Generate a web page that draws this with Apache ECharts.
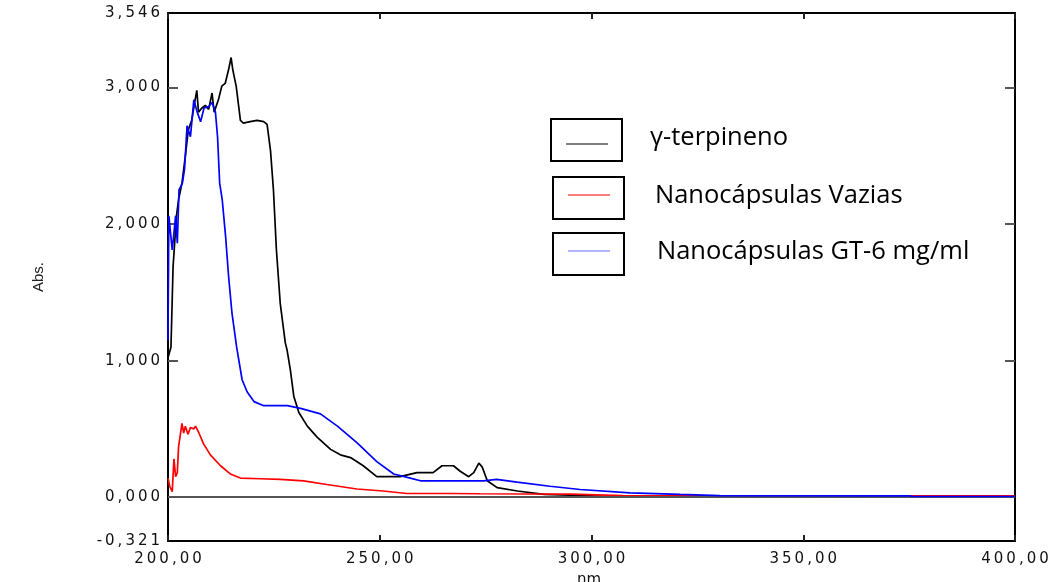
<!DOCTYPE html>
<html>
<head>
<meta charset="utf-8">
<script src="https://cdn.jsdelivr.net/npm/echarts@6/dist/echarts.min.js"></script>
<style>html,body{margin:0;padding:0;background:#fff;}#c{width:1051px;height:582px;}</style>
</head>
<body>
<div id="c"></div>
<script>
// Data (nm, Abs.)
var gammaTerpineno = [
[200.0,1.02],[200.7,1.10],[201.2,1.69],[202.0,2.06],[202.5,2.18],[203.3,2.30],[204.1,2.50],[204.8,2.69],[205.6,2.76],[206.4,2.91],[206.8,2.98],[207.2,2.82],[208.0,2.85],[208.8,2.87],[209.6,2.84],[210.4,2.96],[210.9,2.82],[211.9,2.91],[212.7,3.01],[213.5,3.03],[214.3,3.13],[214.9,3.22],[215.3,3.13],[216.1,3.01],[216.7,2.86],[217.1,2.76],[217.8,2.74],[219.4,2.75],[221.0,2.76],[222.6,2.75],[223.4,2.73],[224.2,2.54],[224.9,2.25],[225.6,1.81],[226.5,1.42],[227.7,1.13],[228.1,1.08],[228.9,0.93],[229.7,0.74],[230.9,0.62],[232.9,0.52],[235.2,0.44],[238.4,0.35],[240.7,0.31],[243.1,0.29],[246.1,0.23],[249.3,0.15],[254.8,0.15],[258.8,0.18],[262.6,0.18],[264.7,0.23],[267.4,0.23],[269.0,0.19],[271.0,0.15],[272.2,0.18],[273.4,0.25],[274.2,0.22],[275.4,0.12],[277.7,0.07],[282.5,0.045],[288.8,0.02],[304.4,0.005],[330,0.003],[400,0.003]
];
var nanoVazias = [
[200.0,0.14],[200.4,0.08],[201.0,0.04],[201.4,0.28],[201.8,0.15],[202.2,0.18],[202.5,0.37],[203.3,0.54],[203.7,0.47],[204.1,0.52],[204.7,0.46],[205.3,0.51],[206.1,0.50],[206.5,0.52],[207.3,0.47],[208.4,0.39],[210.0,0.31],[212.4,0.23],[214.7,0.17],[217.1,0.14],[221.8,0.135],[226.5,0.13],[232.0,0.12],[237.5,0.093],[244.6,0.06],[250.8,0.045],[256.4,0.027],[266.6,0.027],[273.7,0.025],[294.9,0.022],[307.4,0.012],[340,0.01],[400,0.01]
];
var nanoGT6 = [
[200.0,1.15],[200.2,2.06],[201.0,1.81],[201.8,2.06],[202.2,1.86],[202.6,2.25],[203.4,2.30],[203.9,2.40],[204.5,2.72],[205.3,2.64],[206.1,2.91],[206.9,2.82],[207.7,2.75],[208.5,2.85],[209.6,2.86],[210.4,2.89],[211.2,2.82],[211.7,2.64],[212.2,2.30],[212.8,2.18],[213.6,1.91],[214.3,1.62],[215.1,1.35],[216.2,1.10],[217.5,0.86],[218.7,0.77],[220.3,0.70],[222.6,0.67],[228.2,0.67],[231.3,0.65],[236.0,0.61],[240.0,0.52],[244.6,0.40],[249.3,0.26],[253.3,0.17],[257.2,0.14],[259.6,0.12],[265.8,0.12],[274.5,0.12],[277.6,0.13],[282.4,0.11],[290.2,0.08],[297.3,0.056],[309.1,0.032],[320.9,0.02],[330.3,0.012],[375,0.009],[376,0.005],[400,0.005]
];
var seriesNames = ['γ-terpineno','Nanocápsulas Vazias','Nanocápsulas GT-6 mg/ml'];
var seriesColors = ['#000000','#ff0000','#0000ff'];
var yLabelValues = [-0.321, 0, 1, 2, 3, 3.546];
var yTickValues = [0, 1, 2, 3];
var xTicks = [200, 250, 300, 350, 400];

function spaced(s){ return s.split('').join('\u2009'); }
var labelFont = {fontFamily:'DejaVu Sans', fontSize:15, color:'#111'};

var chart = echarts.init(document.getElementById('c'), null, {renderer:'canvas'});
var series = [gammaTerpineno, nanoVazias, nanoGT6].map(function(d,i){
  return {type:'line', name:seriesNames[i], data:d, showSymbol:false, symbol:'none', z:3+i,
    lineStyle:{color:seriesColors[i], width:1.7}, itemStyle:{color:seriesColors[i]}, animation:false};
});
series[0].markLine = {silent:true, symbol:'none', label:{show:false}, animation:false,
  lineStyle:{color:'#555', width:2, type:'solid'}, data:[{yAxis:0}]};

var legendItems = [];
var boxes = [[551,119,71,42,144,'#000'],[553,177,71,42,195,'#ff0000'],[553,233,71,42,251,'#6a6aff']];
var textX = [650,655,657];
boxes.forEach(function(b,i){
  legendItems.push({type:'rect', shape:{x:b[0],y:b[1],width:b[2],height:b[3]}, style:{fill:'#fff',stroke:'#000',lineWidth:2}});
  legendItems.push({type:'line', shape:{x1:b[0]+15,y1:b[4],x2:b[0]+57,y2:b[4]}, style:{stroke:b[5],lineWidth:1.2}});
  legendItems.push({type:'text', x:textX[i], y:b[1]+19, style:{text:seriesNames[i], fontFamily:'Open Sans', fontSize:25.5, fill:'#000', verticalAlign:'middle'}});
});

chart.setOption({
  animation:false,
  backgroundColor:'#fff',
  grid:{left:168, right:36, top:13, bottom:41, containLabel:false, outerBoundsMode:'none'},
  xAxis:[{type:'value', min:200, max:400, interval:50, position:'bottom',
    name:'nm.', nameLocation:'middle', nameGap:32, nameTextStyle:{fontFamily:'DejaVu Sans', fontSize:15, color:'#111'},
    axisLine:{show:true, onZero:false, lineStyle:{color:'#000', width:2}},
    axisTick:{show:true, inside:true, length:6, lineStyle:{color:'#222', width:2}},
    axisLabel:Object.assign({margin:11, formatter:function(v){return spaced(v.toFixed(2).replace('.',','));}}, labelFont),
    splitLine:{show:false}},
   {type:'value', min:200, max:400, interval:50, position:'top',
    axisLine:{show:true, onZero:false, lineStyle:{color:'#000', width:2}},
    axisTick:{show:true, inside:true, length:6, lineStyle:{color:'#222', width:2}},
    axisLabel:{show:false}, splitLine:{show:false}}],
  yAxis:[{type:'value', min:-0.321, max:3.546, position:'left',
    name:'Abs.', nameLocation:'middle', nameGap:122, nameRotate:90,
    nameTextStyle:{fontFamily:'Liberation Sans Narrow, Liberation Sans', fontSize:15, color:'#222'},
    axisLine:{show:true, onZero:false, lineStyle:{color:'#000', width:2}},
    axisTick:{show:true, inside:true, length:10, customValues:yTickValues, lineStyle:{color:'#555', width:2}},
    axisLabel:Object.assign({margin:8, customValues:yLabelValues, formatter:function(v){return spaced(v.toFixed(3).replace('.',','));}}, labelFont),
    splitLine:{show:false}},
   {type:'value', min:-0.321, max:3.546, position:'right',
    axisLine:{show:true, onZero:false, lineStyle:{color:'#000', width:2}},
    axisTick:{show:true, inside:true, length:10, customValues:yTickValues, lineStyle:{color:'#555', width:2}},
    axisLabel:{show:false}, splitLine:{show:false}}],
  series:series,
  graphic:legendItems
});
</script>
</body>
</html>
